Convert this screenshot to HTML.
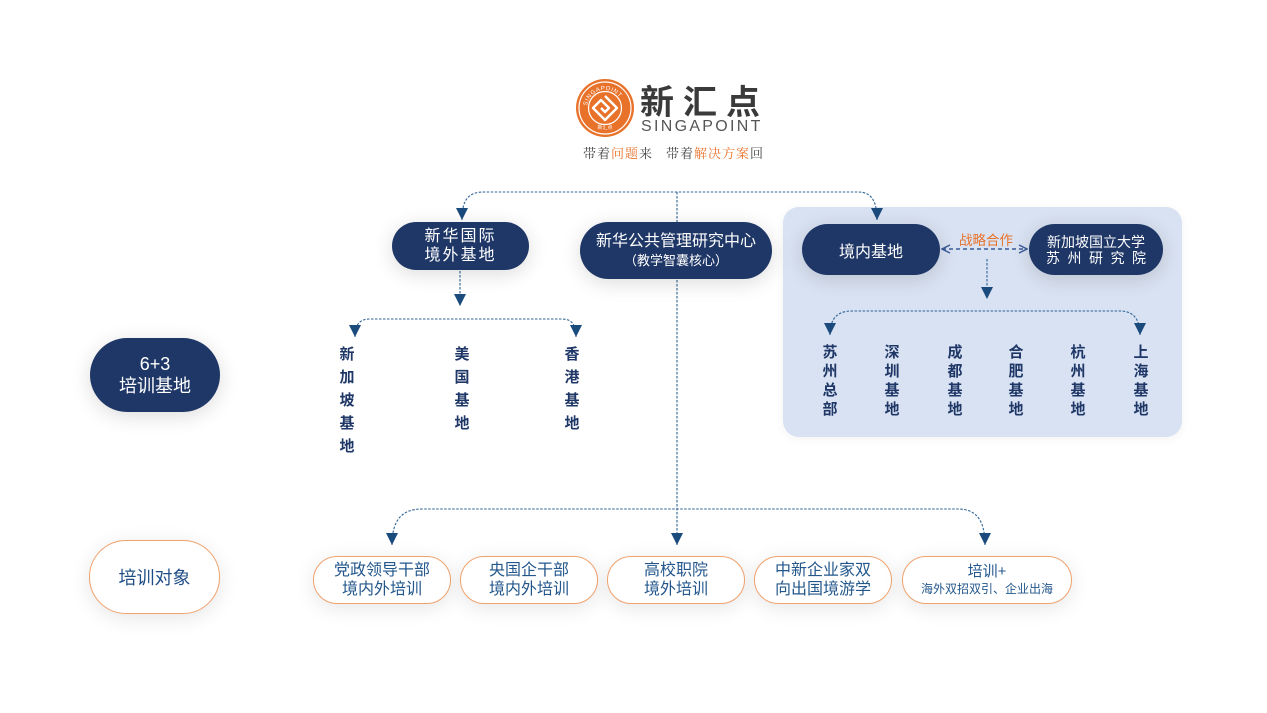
<!DOCTYPE html>
<html><head><meta charset="utf-8">
<style>
*{margin:0;padding:0;box-sizing:border-box}
body{width:1267px;height:713px;background:#fff;position:relative;overflow:hidden;font-family:"Liberation Sans","Noto Sans CJK SC",sans-serif}
.abs{position:absolute}
.node{position:absolute;border-radius:40px;display:flex;flex-direction:column;align-items:center;justify-content:center;text-align:center}
.navy{background:#1f3767;color:#fff;box-shadow:0 4px 20px rgba(0,0,0,0.14)}
.wht{background:#fff;border:1px solid #f0a26e;color:#23578c;box-shadow:0 4px 20px rgba(0,0,0,0.10)}
.vt{position:absolute;font-weight:700;font-size:15px;color:#1f3767;text-align:center;width:20px;font-family:"Noto Sans CJK SC",sans-serif}
</style></head><body>

<!-- panel -->
<div class="abs" style="left:783px;top:207px;width:399px;height:230px;background:#d9e2f2;border-radius:16px;box-shadow:0 2px 10px rgba(0,0,0,0.05)"></div>

<!-- logo -->
<svg class="abs" style="left:575px;top:78px" width="60" height="60" viewBox="0 0 60 60">
 <defs><path id="arcT" d="M12,30 A18,18 0 0,1 48,30"/></defs>
 <circle cx="30" cy="30" r="29" fill="#e8722a"/>
 <circle cx="30" cy="30" r="26" fill="none" stroke="#fff" stroke-width="1.2"/>
 <circle cx="30" cy="30" r="16.5" fill="none" stroke="#fff" stroke-width="1.2"/>
 <text font-size="6" fill="#fff" font-family="Liberation Sans" letter-spacing="0.6"><textPath href="#arcT" startOffset="4%">SINGAPOINT</textPath></text>
 <text x="30" y="51" font-size="5" fill="#fff" text-anchor="middle" font-family="Noto Sans CJK SC">新汇点</text>
 <g fill="none" stroke="#fff" stroke-width="2.4" stroke-linejoin="round">
  <path d="M30,18 L42,30 L30,42 L18,30 L26,22 L34,30 L30,34 L26,30"/>
 </g>
</svg>
<div class="abs" style="left:640px;top:78px;font-size:34px;font-weight:700;color:#3a3a3a;letter-spacing:9px;font-family:'Noto Sans CJK SC',sans-serif;line-height:44px">新汇点</div>
<div class="abs" style="left:641px;top:118px;font-size:16px;color:#555;letter-spacing:2.3px;line-height:18px;font-family:'Liberation Sans',sans-serif">SINGAPOINT</div>
<div class="abs" style="left:583px;top:144px;font-size:13px;color:#444;line-height:18px;letter-spacing:1px;font-family:'Noto Serif CJK SC','Noto Sans CJK SC',serif;white-space:nowrap">带着<span style="color:#e8722a">问题</span>来&nbsp;&nbsp;&nbsp;带着<span style="color:#e8722a">解决方案</span>回</div>

<!-- connectors -->
<svg class="abs" style="left:0;top:0" width="1267" height="713">
 <defs>
  <marker id="ar" viewBox="0 0 12 12" markerWidth="12" markerHeight="12" refX="12" refY="6" orient="auto-start-reverse" markerUnits="userSpaceOnUse">
   <path d="M0,0 L12,6 L0,12 z" fill="#1b4a7c"/>
  </marker>
  <marker id="ch" viewBox="0 0 10 10" markerWidth="10" markerHeight="10" refX="9" refY="5" orient="auto-start-reverse" markerUnits="userSpaceOnUse">
   <path d="M1,1 L9,5 L1,9" fill="none" stroke="#3b5c98" stroke-width="1.5"/>
  </marker>
 </defs>
 <g fill="none" stroke="#2f6396" stroke-width="1.1" stroke-dasharray="2.5 1.5">
  <path d="M462,220 C462,200 468,192 484,192 H858 C872,192 877,202 877,220" marker-start="url(#ar)" marker-end="url(#ar)"/>
  <path d="M677,192 V545" marker-end="url(#ar)"/>
  <path d="M460,271 V306" marker-end="url(#ar)"/>
  <path d="M355,337 C355,324 360,319 370,319 H562 C572,319 576,325 576,337" marker-start="url(#ar)" marker-end="url(#ar)"/>
  <path d="M392,545 C392,520 402,509 422,509 H958 C976,509 985,520 985,545" marker-start="url(#ar)" marker-end="url(#ar)"/>
  <path d="M987,259 V299" marker-end="url(#ar)"/>
  <path d="M830,335 C830,320 836,311 852,311 H1120 C1134,311 1140,320 1140,335" marker-start="url(#ar)" marker-end="url(#ar)"/>
 </g>
 <path d="M942,249 H1027" fill="none" stroke="#3b5c98" stroke-width="1.6" stroke-dasharray="4 3" marker-start="url(#ch)" marker-end="url(#ch)"/>
</svg>

<!-- top nodes -->
<div class="node navy" style="left:392px;top:222px;width:137px;height:48px;font-size:16px;line-height:19px;letter-spacing:2px">新华国际<br>境外基地</div>
<div class="node navy" style="left:580px;top:222px;width:192px;height:57px">
 <div style="font-size:16px;line-height:20px">新华公共管理研究中心</div>
 <div style="font-size:13px;line-height:18px">（教学智囊核心）</div>
</div>
<div class="node navy" style="left:802px;top:224px;width:138px;height:51px;font-size:16px">境内基地</div>
<div class="node navy" style="left:1029px;top:224px;width:134px;height:51px;font-size:14px;line-height:16px">
 <div>新加坡国立大学</div>
 <div style="letter-spacing:7.5px;margin-right:-7.5px">苏州研究院</div>
</div>
<div class="abs" style="left:959px;top:230px;font-size:13.5px;color:#e8722a;line-height:18px;font-family:'Noto Sans CJK SC',sans-serif">战略合作</div>

<!-- left side nodes -->
<div class="node navy" style="left:90px;top:338px;width:130px;height:74px;font-size:18px;line-height:22px">6+3<br>培训基地</div>
<div class="node wht" style="left:89px;top:540px;width:131px;height:74px;font-size:18px;color:#1f4e86">培训对象</div>

<!-- vertical labels left -->
<div class="vt" style="left:337px;top:342px;line-height:23px">新<br>加<br>坡<br>基<br>地</div>
<div class="vt" style="left:452px;top:342px;line-height:23px">美<br>国<br>基<br>地</div>
<div class="vt" style="left:562px;top:342px;line-height:23px">香<br>港<br>基<br>地</div>

<!-- vertical labels right -->
<div class="vt" style="left:820px;top:342px;line-height:19px">苏<br>州<br>总<br>部</div>
<div class="vt" style="left:882px;top:342px;line-height:19px">深<br>圳<br>基<br>地</div>
<div class="vt" style="left:945px;top:342px;line-height:19px">成<br>都<br>基<br>地</div>
<div class="vt" style="left:1006px;top:342px;line-height:19px">合<br>肥<br>基<br>地</div>
<div class="vt" style="left:1068px;top:342px;line-height:19px">杭<br>州<br>基<br>地</div>
<div class="vt" style="left:1131px;top:342px;line-height:19px">上<br>海<br>基<br>地</div>

<!-- bottom nodes -->
<div class="node wht" style="left:313px;top:556px;width:138px;height:48px;font-size:16px;line-height:19px">党政领导干部<br>境内外培训</div>
<div class="node wht" style="left:460px;top:556px;width:138px;height:48px;font-size:16px;line-height:19px">央国企干部<br>境内外培训</div>
<div class="node wht" style="left:607px;top:556px;width:138px;height:48px;font-size:16px;line-height:19px">高校职院<br>境外培训</div>
<div class="node wht" style="left:754px;top:556px;width:138px;height:48px;font-size:16px;line-height:19px">中新企业家双<br>向出国境游学</div>
<div class="node wht" style="left:902px;top:556px;width:170px;height:48px">
 <div style="font-size:15px;line-height:18px">培训+</div>
 <div style="font-size:12px;line-height:17px">海外双招双引、企业出海</div>
</div>

</body></html>
